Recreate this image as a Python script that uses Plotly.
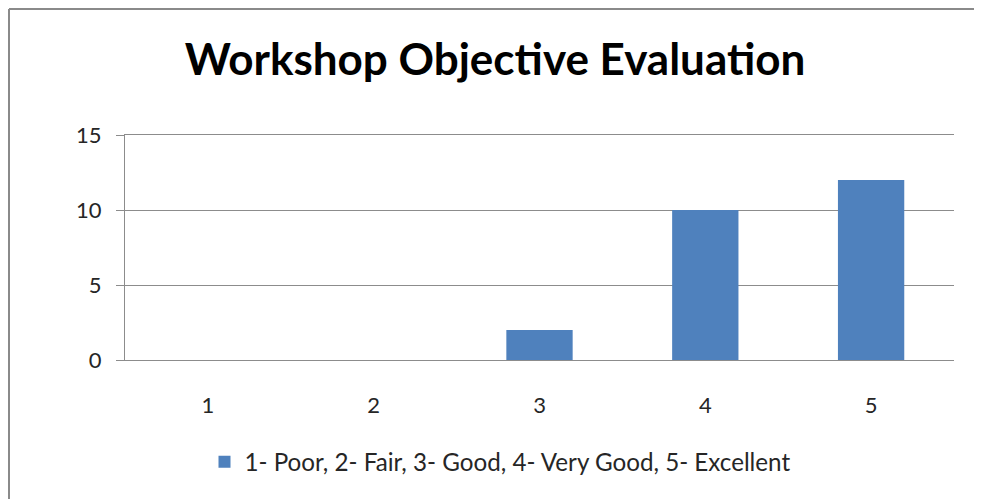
import plotly.graph_objects as go

categories = ["1", "2", "3", "4", "5"]
values = [0, 0, 2, 10, 12]
series_name = "1- Poor, 2- Fair, 3- Good, 4- Very Good, 5- Excellent"
title_text = "Workshop Objective Evaluation"
y_ticks = [0, 5, 10, 15]

# page body has an 8px margin; compensate so that positions match the window
OFF = 8
W, H = 982 - OFF, 499 - OFF
L, T = 125 - OFF, 135 - OFF
R = W - (954 - OFF)
B = H - (360 - OFF)
pw, ph = W - L - R, H - T - B

def px_x(x):
    return (x - OFF - L) / pw

def px_y(y):
    return (H - B - (y - OFF)) / ph

fig = go.Figure()
fig.add_trace(go.Bar(
    x=categories, y=values, name=series_name,
    marker=dict(color="#4F81BD", line=dict(width=0)),
    showlegend=True,
))

font = "Lato, 'Open Sans', sans-serif"
fig.update_layout(
    width=W, height=H,
    margin=dict(l=L, r=R, t=T, b=B, autoexpand=False),
    paper_bgcolor="white", plot_bgcolor="white",
    bargap=0.6,
    title=dict(text="<b>" + title_text + "</b>", x=0.5, xanchor="center",
               y=1 - (60 - OFF) / H, yanchor="middle",
               font=dict(family=font, size=44, color="black")),
    xaxis=dict(type="category", showgrid=False, showline=True, mirror=True,
               linecolor="#8C8C8C", linewidth=1, ticks="",
               tickfont=dict(family=font, size=22, color="#262626"),
               ticklabelstandoff=26),
    yaxis=dict(range=[0, 15], tickvals=y_ticks, showgrid=True,
               gridcolor="#8C8C8C", gridwidth=1,
               showline=True, linecolor="#8C8C8C", linewidth=1,
               ticks="outside", ticklen=8, tickcolor="#8C8C8C",
               tickfont=dict(family=font, size=22, color="#262626"),
               ticklabelstandoff=10, zeroline=False),
    legend=dict(orientation="h", x=px_x(500), xanchor="center",
                y=px_y(462), yanchor="middle",
                font=dict(family=font, size=24.2, color="#262626"),
                bgcolor="rgba(0,0,0,0)"),
    shapes=[
        dict(type="line", xref="paper", yref="paper",
             x0=px_x(9), x1=px_x(1000), y0=px_y(9), y1=px_y(9),
             line=dict(color="#8A8A8A", width=2)),
        dict(type="line", xref="paper", yref="paper",
             x0=px_x(9), x1=px_x(9), y0=px_y(9), y1=px_y(520),
             line=dict(color="#8A8A8A", width=2)),
    ],
)

fig.write_html("out.html", config={"displayModeBar": False})
